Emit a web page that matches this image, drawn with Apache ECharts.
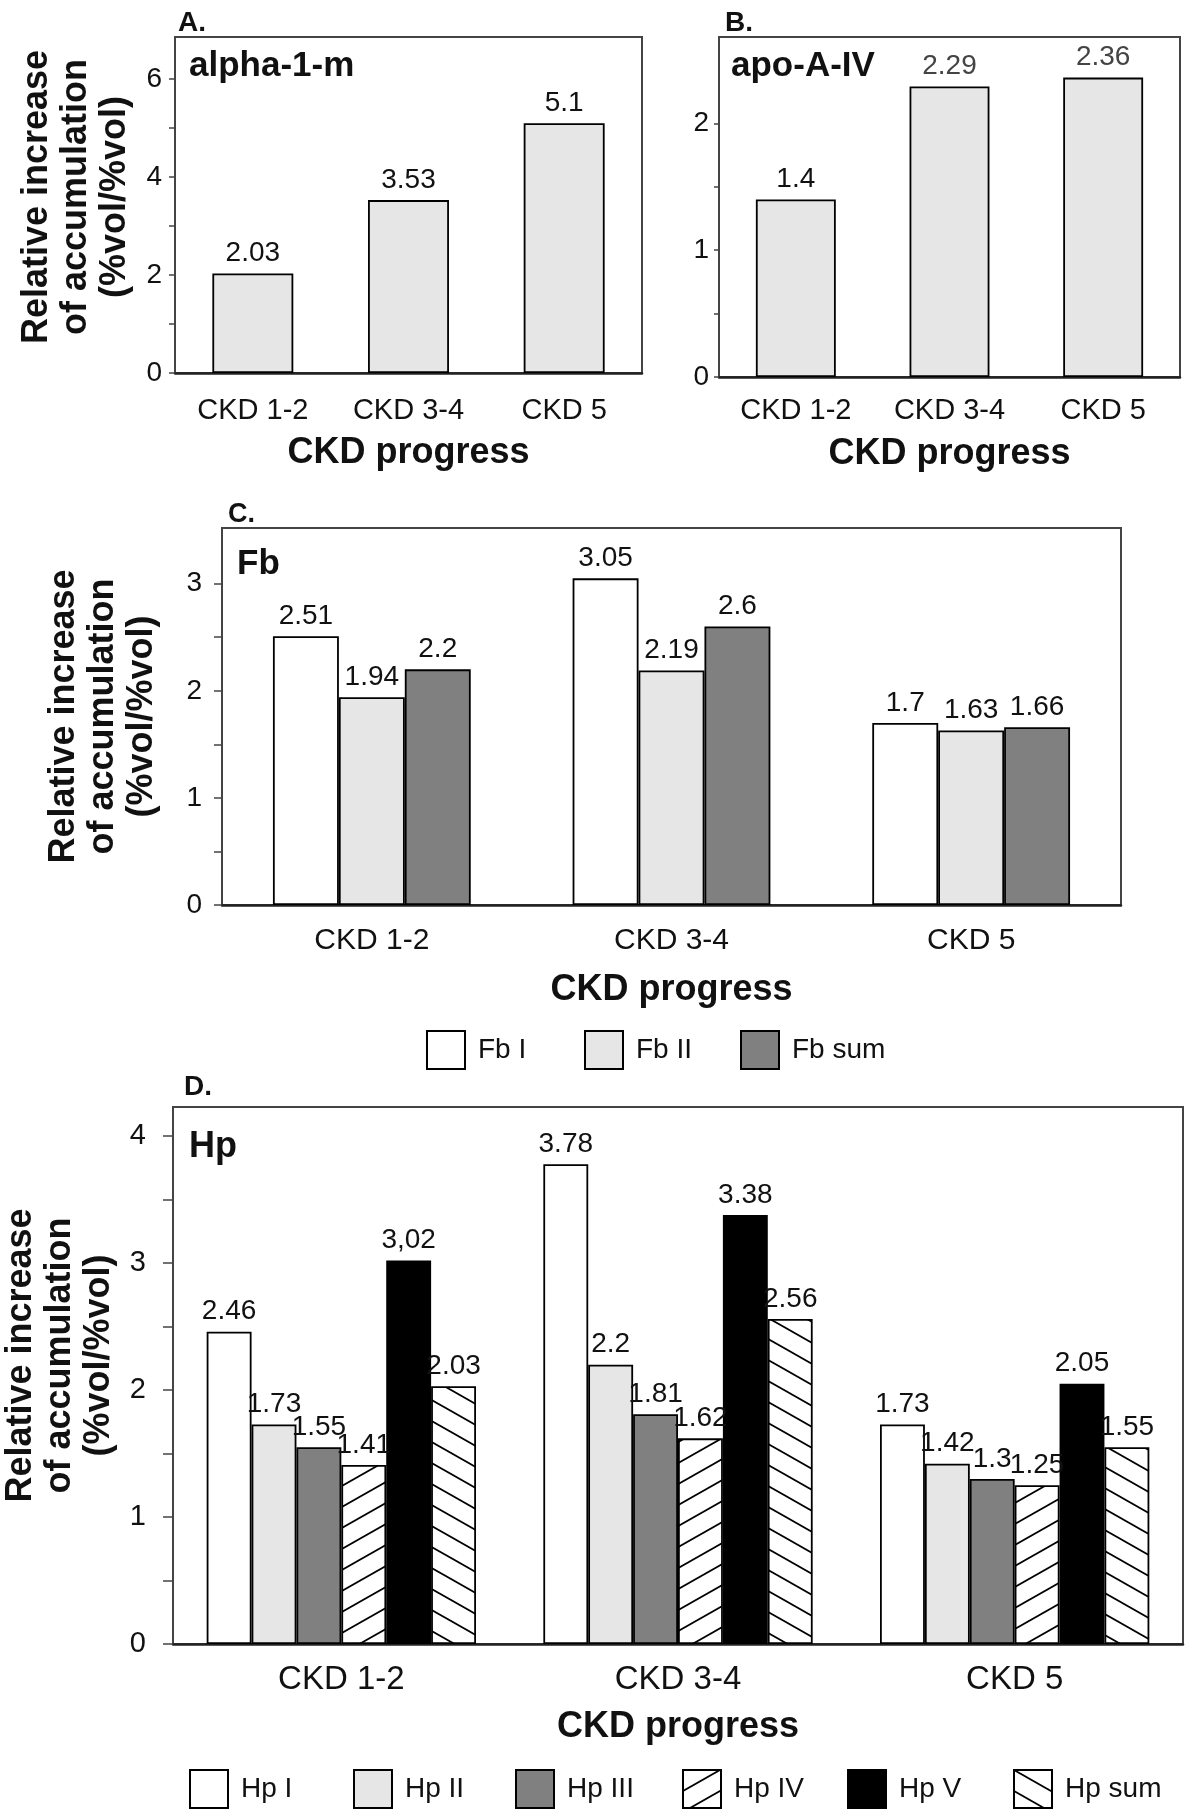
<!DOCTYPE html>
<html>
<head>
<meta charset="utf-8">
<script src="https://cdn.jsdelivr.net/npm/echarts@6/dist/echarts.min.js"></script>
<style>
  html, body { margin: 0; padding: 0; background: #fff; }
  #main { width: 1200px; height: 1813px; }
</style>
</head>
<body>
<div id="main"></div>
<script>
// categories
const categories = ['CKD 1-2', 'CKD 3-4', 'CKD 5'];

// A. alpha-1-m / B. apo-A-IV
const alphaValues = [2.03, 3.53, 5.1];
const apoValues = [1.4, 2.29, 2.36];

// C. Fb
const fbNames = ['Fb I', 'Fb II', 'Fb sum'];
const fbI = [2.51, 3.05, 1.7];
const fbII = [1.94, 2.19, 1.63];
const fbSum = [2.2, 2.6, 1.66];

// D. Hp
const hpNames = ['Hp I', 'Hp II', 'Hp III', 'Hp IV', 'Hp V', 'Hp sum'];
const hpI = [2.46, 3.78, 1.73];
const hpII = [1.73, 2.2, 1.42];
const hpIII = [1.55, 1.81, 1.3];
const hpIV = [1.41, 1.62, 1.25];
const hpV = [3.02, 3.38, 2.05];
const hpSum = [2.03, 2.56, 1.55];
const hpVLabels = ['3,02', '3.38', '2.05'];

// y tick marks (labels every interval, small ticks in between)
const aTicks = [0, 1, 2, 3, 4, 5, 6];
const bTicks = [0, 0.5, 1, 1.5, 2];
const cTicks = [0, 0.5, 1, 1.5, 2, 2.5, 3];
const dTicks = [0, 0.5, 1, 1.5, 2, 2.5, 3, 3.5, 4];

const FONT = "'Liberation Sans', Arial, sans-serif";
const yTitle = 'Relative increase\nof accumulation\n(%vol/%vol)';

// hatch fill for Hp IV ('/') and Hp sum ('\')
function hatch(dir) {
  const w = 37, h = 21;
  const c = document.createElement('canvas');
  c.width = w; c.height = h;
  const ctx = c.getContext('2d');
  ctx.fillStyle = '#fff';
  ctx.fillRect(0, 0, w, h);
  ctx.strokeStyle = '#000';
  ctx.lineWidth = 1.8;
  for (let k = -1; k <= 1; k++) {
    ctx.beginPath();
    if (dir === '/') {
      ctx.moveTo(k * w - w, 2 * h);
      ctx.lineTo(k * w + 2 * w, -h);
    } else {
      ctx.moveTo(k * w - w, -h);
      ctx.lineTo(k * w + 2 * w, 2 * h);
    }
    ctx.stroke();
  }
  return { image: c, repeat: 'repeat' };
}

const fbColors = ['#ffffff', '#e6e6e6', '#808080'];
const hpColors = ['#ffffff', '#e6e6e6', '#808080', hatch('/'), '#000000', hatch('\\')];
const apoLabelColors = ['#111', '#444', '#444'];

const grids = [
  { left: 175, top: 37, width: 467, height: 336 },
  { left: 719, top: 37, width: 461, height: 340 },
  { left: 222, top: 528, width: 899, height: 377 },
  { left: 173, top: 1107, width: 1010, height: 537 }
].map(g => Object.assign({
  show: true, borderColor: '#444', borderWidth: 2, backgroundColor: 'transparent',
  containLabel: false, outerBoundsMode: 'none'
}, g));

function xAxis(i, fontSize, margin, nameGap) {
  return {
    type: 'category', gridIndex: i, data: categories,
    axisLine: { lineStyle: { color: '#222', width: 2.5 } },
    axisTick: { show: false },
    axisLabel: { fontFamily: FONT, fontSize: fontSize, color: '#111', margin: margin },
    name: 'CKD progress', nameLocation: 'middle', nameGap: nameGap,
    nameTextStyle: { fontFamily: FONT, fontWeight: 'bold', fontSize: 36, color: '#111' }
  };
}

function yAxis(i, max, interval, ticks, tickLen, fontSize, margin, name, nameGap, namePad) {
  return {
    type: 'value', gridIndex: i, min: 0, max: max, interval: interval,
    splitLine: { show: false },
    axisLine: { show: true, lineStyle: { color: '#444', width: 2 } },
    axisTick: { show: true, length: tickLen, customValues: ticks, lineStyle: { color: '#444', width: 1.5 } },
    axisLabel: {
      fontFamily: FONT, fontSize: fontSize, color: '#111', margin: margin,
      showMaxLabel: false, showMinLabel: true
    },
    name: name, nameLocation: 'middle', nameRotate: 90, nameGap: nameGap,
    nameTextStyle: {
      fontFamily: FONT, fontWeight: 'bold', fontSize: 36, lineHeight: 39,
      color: '#111', align: 'center', padding: namePad || 0
    }
  };
}

const barBorder = { borderColor: '#000', borderWidth: 1.8 };
const labelStyle = { show: true, position: 'top', distance: 6, fontFamily: FONT, fontSize: 28, color: '#111' };

const series = [
  {
    type: 'bar', name: 'alpha-1-m', xAxisIndex: 0, yAxisIndex: 0,
    data: alphaValues, barCategoryGap: '48%',
    itemStyle: Object.assign({ color: '#e6e6e6' }, barBorder),
    label: labelStyle
  },
  {
    type: 'bar', name: 'apo-A-IV', xAxisIndex: 1, yAxisIndex: 1,
    data: apoValues.map((v, i) => ({ value: v, label: { color: apoLabelColors[i] } })),
    barCategoryGap: '48%',
    itemStyle: Object.assign({ color: '#e6e6e6' }, barBorder),
    label: labelStyle
  }
];

[fbI, fbII, fbSum].forEach((vals, k) => {
  series.push({
    type: 'bar', name: fbNames[k], xAxisIndex: 2, yAxisIndex: 2,
    data: vals, barGap: '0%', barCategoryGap: '34%',
    itemStyle: Object.assign({ color: fbColors[k] }, barBorder),
    label: Object.assign({}, labelStyle)
  });
});

[hpI, hpII, hpIII, hpIV, hpV, hpSum].forEach((vals, k) => {
  const s = {
    type: 'bar', name: hpNames[k], xAxisIndex: 3, yAxisIndex: 3,
    data: vals, barGap: '0%', barCategoryGap: '20%',
    itemStyle: Object.assign({ color: hpColors[k] }, barBorder),
    label: Object.assign({}, labelStyle)
  };
  if (hpNames[k] === 'Hp V') {
    s.label.formatter = p => hpVLabels[p.dataIndex];
  }
  series.push(s);
});

// legends, one item each so the spacing follows the picture
const fbLegendLeft = [421, 579, 735];
const hpLegendLeft = [184, 348, 510, 677, 842, 1008];
function legendItem(name, left, top) {
  return {
    data: [name], left: left, top: top, orient: 'horizontal',
    icon: 'rect', itemWidth: 38, itemHeight: 38, selectedMode: false,
    itemStyle: { borderColor: '#000', borderWidth: 2 },
    textStyle: { fontFamily: FONT, fontSize: 28, color: '#111', padding: [0, 0, 0, 8] }
  };
}
const legends = fbNames.map((n, i) => legendItem(n, fbLegendLeft[i], 1025))
  .concat(hpNames.map((n, i) => legendItem(n, hpLegendLeft[i], 1764)));

function label(text, left, top, size) {
  return {
    text: text, left: left, top: top, padding: 0,
    textStyle: { fontFamily: FONT, fontWeight: 'bold', fontSize: size, color: '#111' }
  };
}

const option = {
  animation: false,
  backgroundColor: '#fff',
  title: [
    label('A.', 178, 9, 28),
    label('alpha-1-m', 189, 49, 35),
    label('B.', 725, 9, 28),
    label('apo-A-IV', 731, 49, 35),
    label('C.', 228, 501, 27),
    label('Fb', 237, 547, 35),
    label('D.', 184, 1073, 28),
    label('Hp', 189, 1129, 36)
  ],
  legend: legends,
  grid: grids,
  xAxis: [
    xAxis(0, 29, 23, 62),
    xAxis(1, 29, 19, 59),
    xAxis(2, 30, 21, 67),
    xAxis(3, 33, 19, 65)
  ],
  yAxis: [
    yAxis(0, 6.86, 2, aTicks, 6, 28, 13, yTitle, 40, [0, 0, 0, 16]),
    yAxis(1, 2.68, 1, bTicks, 5, 28, 10, '', 40),
    yAxis(2, 3.52, 1, cTicks, 8, 28, 20, yTitle, 60),
    yAxis(3, 4.23, 1, dTicks, 10, 29, 27, yTitle, 45, [0, 0, 0, 40])
  ],
  series: series
};

const chart = echarts.init(document.getElementById('main'), null, { renderer: 'canvas' });
chart.setOption(option);
</script>
</body>
</html>
